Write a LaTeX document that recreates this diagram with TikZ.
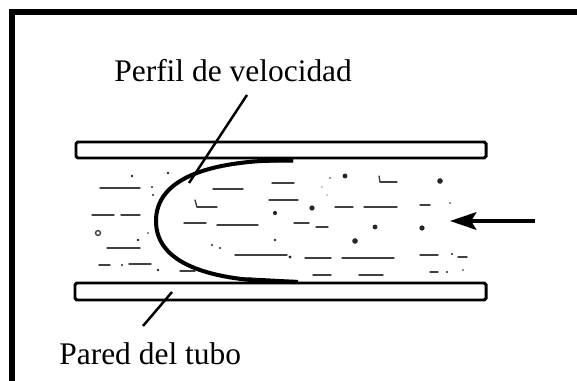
\documentclass[tikz,border=0pt]{standalone}
\usepackage{fontspec}
\setmainfont{Liberation Serif}
\usetikzlibrary{arrows.meta,positioning}

\tikzset{
  wall/.style={line width=1.7pt, rounded corners=1pt},
  streak/.style={black!75, line width=0.8pt, line cap=round},
  leader/.style={line width=1.4pt},
  tag/.style={inner sep=0pt, anchor=base west, font=\fontsize{17.9}{21}\selectfont},
}

\begin{document}
\begin{tikzpicture}[x=0.02cm, y=-0.02cm]
    \useasboundingbox (0,0) rectangle (577,381);
    \clip (0,0) rectangle (577,381);

    % frame, open on the right and at the bottom
    \draw[line width=3.1pt] (12,400) -- (12,12) -- (600,12);

    % tube walls
    \draw[wall] (76,142) rectangle (486,158);
    \draw[wall] (75,283) rectangle (486,300);

    % streaks in the fluid
    \foreach \xa/\xb/\y in {100/140/188, 92/114/215, 121/140/215, 107/140/248,
        99/110/265, 129/151/264, 180/195/271, 213/243/189, 272/294/183,
        269/298/200, 197/217/207, 335/353/207, 364/397/207, 420/430/205,
        184/206/223, 217/258/225, 294/309/223, 316/328/227, 235/287/255,
        305/331/258, 342/394/258, 313/331/275, 359/383/275, 420/438/255,
        458/467/257, 430/438/272, 380/397/182}
      \draw[streak] (\xa,\y) -- (\xb,\y);
    \draw[streak] (195,200) -- (197,207);
    \draw[streak] (379,176) -- (380,182);
    \draw[streak] (98,233) circle (1.4pt);

    % particles
    \foreach \x/\y/\r in {168/173/0.8, 132/176/0.8, 152/187/0.6, 153/195/0.6,
        138/240/0.8, 148/233/0.5, 158/270/0.8, 122/265/0.6, 345/176/1.4,
        330/178/0.5, 322/187/0.4, 327/195/0.4, 275/213/1.2, 312/208/1.5,
        375/227/1.4, 440/181/1.6, 450/203/0.5, 422/228/1.5, 275/240/0.8,
        355/241/1.6, 290/257/0.9, 447/272/0.6, 463/270/0.5, 452/254/0.7,
        212/245/0.7, 220/248/0.6}
      \fill[black!85] (\x,\y) circle (\r pt);

    % velocity profile
    \draw[line width=2.3pt] (293,160) .. controls (205,160) and (156,180) .. (156,221)
      .. controls (156,262) and (205,282) .. (296,282);
    \fill (245,163) -- (293,158.5) -- (293,162.5) -- cycle;
    \fill (242,277) -- (298,280) -- (298,284) -- cycle;

    % flow direction
    \coordinate (inflow) at (535,221);
    \coordinate (head) at (450,221);
    \draw[line width=2pt, -{Stealth[length=15pt, width=10pt, inset=3pt]}] (inflow) -- (head);

    % labels
    \node[tag] (perfil) at (114,82) {Perfil de velocidad};
    \node[tag] (pared) at (59,364) {Pared del tubo};

    \coordinate (perfil leader) at (247,95);
    \coordinate (on curve) at (189,183);
    \draw[leader] (perfil leader) -- (on curve);

    \coordinate (on wall) at (172,292);
    \coordinate (pared leader) at (143,326);
    \draw[leader] (on wall) -- (pared leader);
\end{tikzpicture}
\end{document}
